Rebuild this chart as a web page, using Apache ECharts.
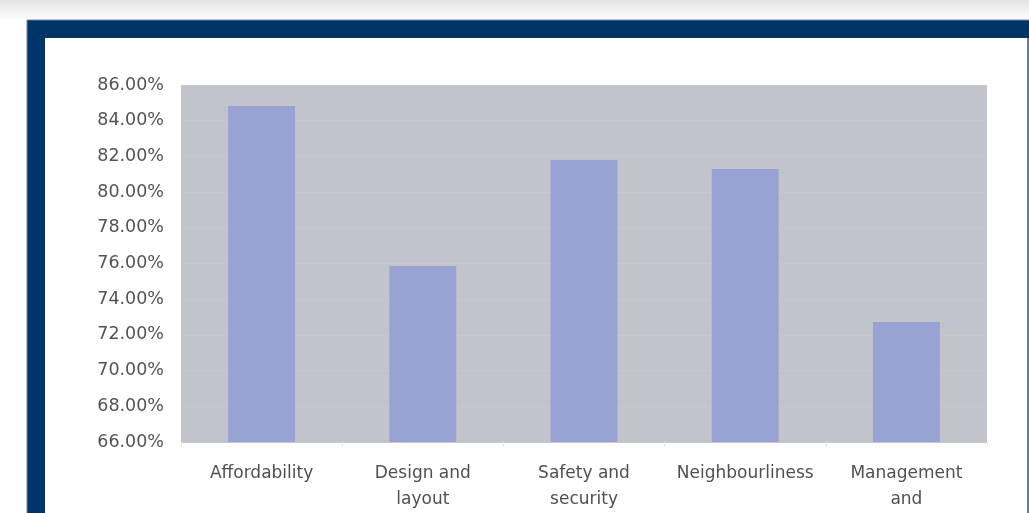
<!DOCTYPE html>
<html>
<head>
<meta charset="utf-8">
<script src="https://cdn.jsdelivr.net/npm/echarts@6/dist/echarts.min.js"></script>
<style>
  html, body { margin: 0; padding: 0; background: #ffffff; }
  #chart { width: 1029px; height: 513px; }
</style>
</head>
<body>
<div id="chart"></div>
<script>
// Satisfaction by aspect of housing
const categories = [
  'Affordability',
  'Design and\nlayout',
  'Safety and\nsecurity',
  'Neighbourliness',
  'Management\nand\nmaintenance'
];
const shares = [84.82, 75.86, 81.80, 81.29, 72.72];
const yMin = 66;
const yMax = 86;
const yStep = 2;

const chart = echarts.init(document.getElementById('chart'), null, { renderer: 'canvas' });

chart.setOption({
  animation: false,
  backgroundColor: '#ffffff',
  graphic: [
    // soft shadow strip along the top
    {
      type: 'rect', silent: true, z: -10,
      shape: { x: 0, y: 0, width: 1029, height: 19 },
      style: {
        fill: new echarts.graphic.LinearGradient(0, 0, 0, 1, [
          { offset: 0, color: '#e4e4e4' },
          { offset: 1, color: '#fbfbfb' }
        ])
      }
    },
    // navy frame
    {
      type: 'rect', silent: true, z: -9,
      shape: { x: 27, y: 20, width: 1010, height: 520 },
      style: { fill: '#023567', stroke: '#6d86a6', lineWidth: 1 }
    },
    // white panel inside the frame
    {
      type: 'rect', silent: true, z: -8,
      shape: { x: 45, y: 38, width: 982, height: 500 },
      style: { fill: '#ffffff' }
    },
    {
      type: 'line', silent: true, z: -7,
      shape: { x1: 1028, y1: 38, x2: 1028, y2: 513 },
      style: { stroke: '#b8c6d8', lineWidth: 1 }
    }
  ],
  grid: {
    left: 181,
    right: 42,
    top: 85,
    bottom: 71,
    containLabel: false,
    outerBoundsMode: 'none',
    show: true,
    backgroundColor: '#c1c4cb',
    borderWidth: 0
  },
  xAxis: {
    type: 'category',
    data: categories,
    axisLine: { show: false },
    axisTick: {
      show: true,
      length: 5,
      lineStyle: { color: '#e6e8ec', width: 1 }
    },
    axisLabel: {
      interval: 0,
      margin: 19,
      color: '#505050',
      fontFamily: 'DejaVu Sans, sans-serif',
      fontSize: 17,
      lineHeight: 26
    }
  },
  yAxis: {
    type: 'value',
    min: yMin,
    max: yMax,
    interval: yStep,
    axisLine: { show: false },
    axisTick: { show: false },
    splitLine: { show: true, lineStyle: { color: '#c6c9cf', width: 1 } },
    axisLabel: {
      margin: 17,
      color: '#535353',
      fontFamily: 'DejaVu Sans, sans-serif',
      fontSize: 17.5,
      formatter: v => v.toFixed(2) + '%'
    }
  },
  series: [{
    type: 'bar',
    data: shares,
    barWidth: '41.5%',
    itemStyle: { color: '#98a2d3' },
    silent: true
  }]
});
</script>
</body>
</html>
